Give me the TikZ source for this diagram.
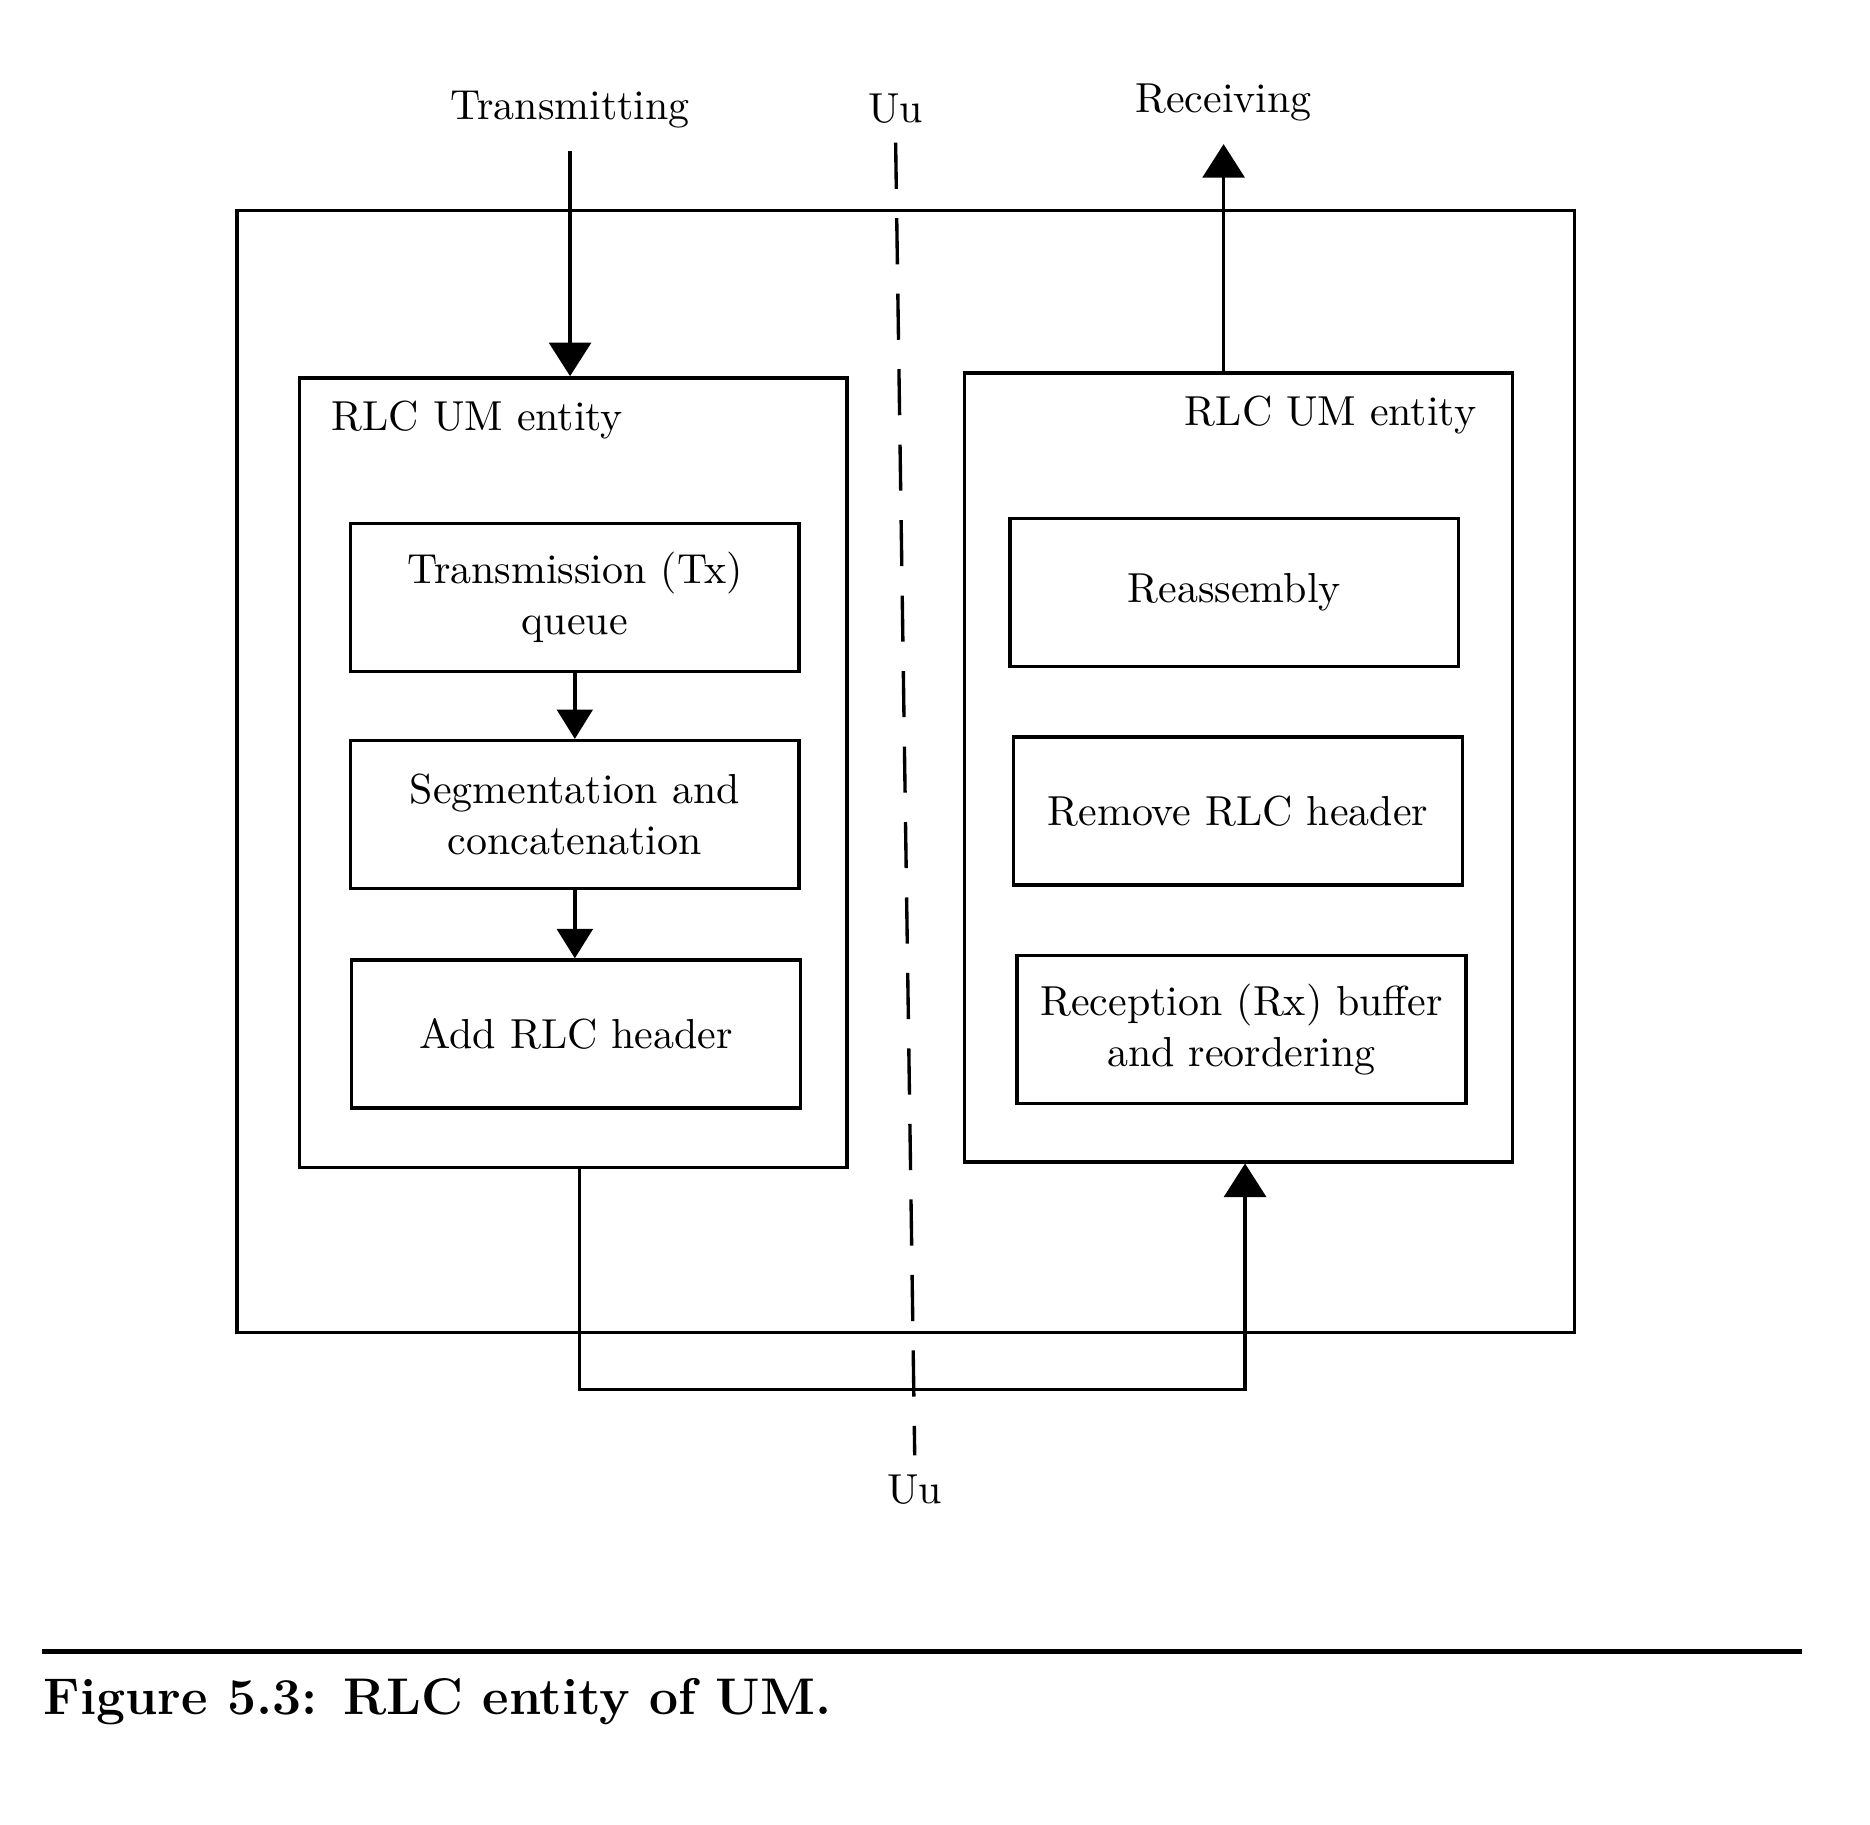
\documentclass[tikz,border=0pt]{standalone}
\usetikzlibrary{arrows.meta}
\begin{document}
\begin{tikzpicture}[x=0.01cm,y=-0.01cm,
  lw/.style={line width=0.8pt},
  blk/.style={draw, lw, minimum width=3.76cm, minimum height=1.24cm, align=center, inner sep=0pt, font=\fontsize{10}{12.2}\selectfont},
  frame/.style={draw, lw, inner sep=0pt},
  lbl/.style={font=\fontsize{10}{12}\selectfont, inner sep=1pt},
  arr/.style={lw, -{Triangle[length=8pt,width=10pt]}},
  sarr/.style={lw, -{Triangle[length=7pt,width=8.5pt]}},
  uudash/.style={lw, dash pattern=on 11pt off 7pt}
]
\useasboundingbox[fill=white] (0,0) rectangle (1568,1530);

% frames
\node[frame, minimum width=11.21cm, minimum height=9.40cm] (outer) at (759.5,647) {};
\node[frame, minimum width=4.59cm, minimum height=6.62cm] (lent) at (480.5,648) {};
\node[frame, minimum width=4.59cm, minimum height=6.61cm] (rent) at (1038.5,643.5) {};

\node[lbl, anchor=west] (llab) at (274,352) {RLC UM entity};
\node[lbl, anchor=east] (rlab) at (1242,348) {RLC UM entity};

% left blocks
\node[blk] (txq) at (482,501) {Transmission (Tx)\\queue};
\node[blk] (seg) at (482,683) {Segmentation and\\concatenation};
\node[blk] (add) at (483,867) {Add RLC header};

% right blocks
\node[blk] (reas) at (1035,497) {Reassembly};
\node[blk] (rem) at (1038,680) {Remove RLC header};
\node[blk] (rec) at (1041,863) {Reception (Rx) buffer\\and reordering};

% labels
\node[lbl] (trans) at (478,92) {Transmitting};
\node[lbl] (recv) at (1026,86) {Receiving};
\node[lbl] (uutop) at (751,91) {Uu};
\node[lbl] (uubot) at (767,1249) {Uu};

% dashed Uu line
\draw[uudash] ([yshift=-0.12cm]uutop.south) -- ([yshift=0.12cm]uubot.north);

% arrows
\draw[arr] ([yshift=-0.15cm]trans.south) -- (trans.south |- lent.north);
\draw[arr] (recv.south |- rent.north) -- ([yshift=-0.15cm]recv.south);
\draw[sarr] (txq.south) -- (txq.south |- seg.north);
\draw[sarr] (seg.south) -- (seg.south |- add.north);

\coordinate (b1) at (486,1165);
\coordinate (b2) at (1044,1165);
\draw[arr] (b1 |- lent.south) -- (b1) -- (b2) -- (b2 |- rent.south);

% caption
\coordinate (r1) at (35,1385);
\coordinate (r2) at (1511,1385);
\draw[line width=1.3pt] (r1) -- (r2);
\node[anchor=base west, inner sep=0pt, font=\fontsize{12.3}{14}\selectfont\bfseries] (cap) at (36,1438) {Figure 5.3: RLC entity of UM.};
\end{tikzpicture}
\end{document}
